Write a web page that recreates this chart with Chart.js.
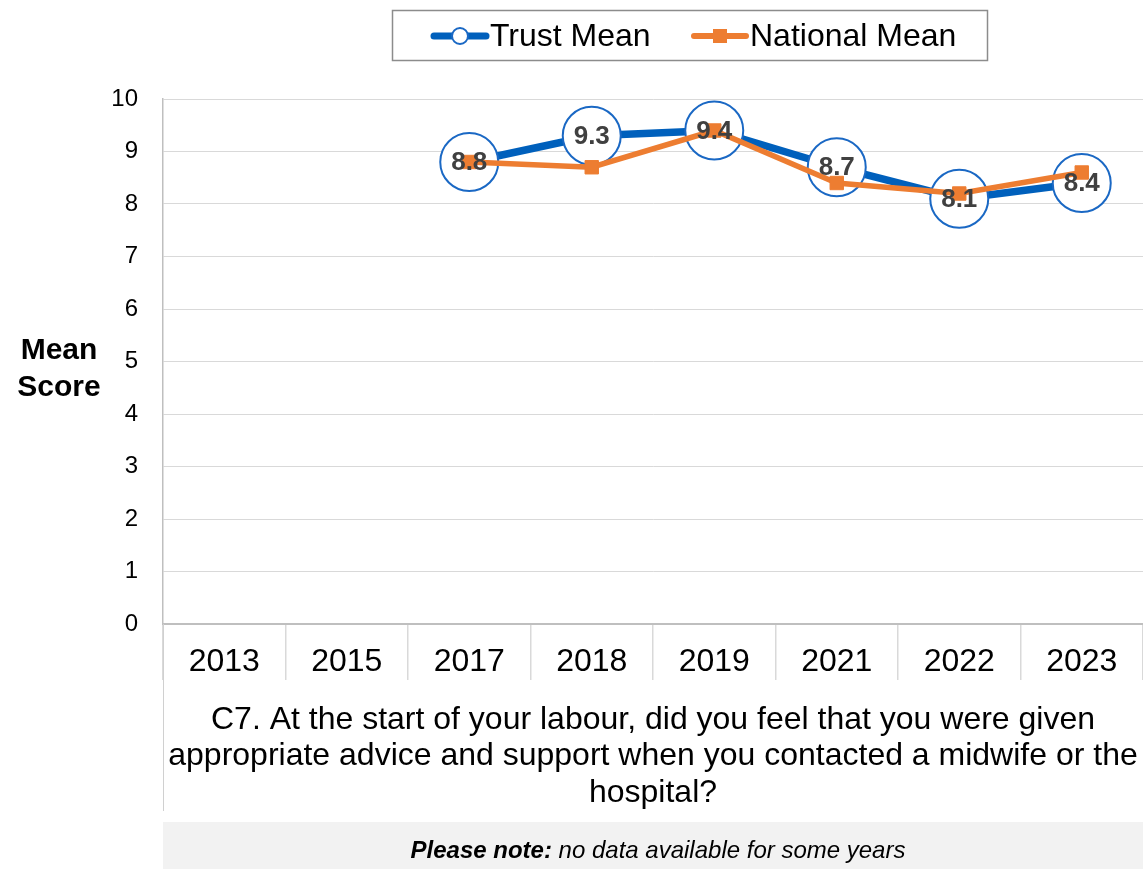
<!DOCTYPE html>
<html><head><meta charset="utf-8">
<script src="https://cdn.jsdelivr.net/npm/chart.js@4/dist/chart.umd.min.js"></script>
<style>html,body{margin:0;padding:0;background:#fff;overflow:hidden;} canvas{display:block}</style>
</head><body>
<canvas id="c" width="1143" height="869"></canvas>
<script>
// ---- data ----
const categories = ['2013','2015','2017','2018','2019','2021','2022','2023'];
const trustMean = [null, null, 8.8, 9.3, 9.4, 8.7, 8.1, 8.4];
const nationalMean = [null, null, 8.8, 8.7, 9.4, 8.4, 8.2, 8.6];
const yMin = 0, yMax = 10, yStep = 1;
const seriesNames = ['Trust Mean', 'National Mean'];
const yAxisLabel = ['Mean', 'Score'];
const questionText = [
  'C7. At the start of your labour, did you feel that you were given',
  'appropriate advice and support when you contacted a midwife or the',
  'hospital?'
];
const noteBold = 'Please note:';
const noteRest = ' no data available for some years';

// ---- styles ----
const FONT = '"Liberation Sans", Arial, sans-serif';
const BLUE = '#0060BC';
const BLUE_RING = '#1A68C4';
const ORANGE = '#ED7D31';

const valueLabels = {
  id: 'valueLabels',
  afterDatasetsDraw(chart) {
    const ctx = chart.ctx;
    const meta = chart.getDatasetMeta(0);
    ctx.save();
    ctx.font = 'bold 26px ' + FONT;
    ctx.fillStyle = '#404040';
    ctx.textAlign = 'center';
    ctx.textBaseline = 'middle';
    meta.data.forEach((el, i) => {
      const v = trustMean[i];
      if (v === null || el.skip) return;
      ctx.fillText(v.toFixed(1), el.x, el.y + 1);
    });
    ctx.restore();
  }
};

const decorations = {
  id: 'decorations',
  afterDraw(chart) {
    const ctx = chart.ctx;
    const ca = chart.chartArea;
    const xs = chart.scales.x;
    ctx.save();
    // left border extension below the plot
    ctx.strokeStyle = '#D0D0D0';
    ctx.lineWidth = 1;
    ctx.beginPath();
    ctx.moveTo(ca.left + 0.5, ca.bottom);
    ctx.lineTo(ca.left + 0.5, xs.bottom);
    ctx.stroke();

    // legend box
    ctx.strokeStyle = '#8C8C8C';
    ctx.lineWidth = 1.5;
    ctx.strokeRect(392.5, 10.5, 595, 50);
    const ly = 36;
    ctx.lineCap = 'round';
    ctx.strokeStyle = BLUE; ctx.lineWidth = 7;
    ctx.beginPath(); ctx.moveTo(434, ly); ctx.lineTo(486, ly); ctx.stroke();
    ctx.fillStyle = '#fff'; ctx.strokeStyle = BLUE_RING; ctx.lineWidth = 2;
    ctx.beginPath(); ctx.arc(460, ly, 8, 0, Math.PI * 2); ctx.fill(); ctx.stroke();
    ctx.strokeStyle = ORANGE; ctx.lineWidth = 6;
    ctx.beginPath(); ctx.moveTo(694, ly); ctx.lineTo(746, ly); ctx.stroke();
    ctx.fillStyle = ORANGE;
    ctx.fillRect(713, ly - 7, 14, 14);
    ctx.fillStyle = '#000';
    ctx.font = '32px ' + FONT;
    ctx.textAlign = 'left'; ctx.textBaseline = 'middle';
    ctx.fillText(seriesNames[0], 490, ly + 1);
    ctx.fillText(seriesNames[1], 750, ly + 1);

    // y axis label
    ctx.font = 'bold 30px ' + FONT;
    ctx.textAlign = 'center';
    ctx.fillText(yAxisLabel[0], 59, 351);
    ctx.fillText(yAxisLabel[1], 59, 388);

    // note box
    ctx.fillStyle = '#F2F2F2';
    ctx.fillRect(ca.left, 822, ca.right - ca.left, 869 - 822);
    ctx.fillStyle = '#000';
    const fb = 'italic bold 24px ' + FONT;
    const fr = 'italic 24px ' + FONT;
    ctx.font = fb; const wb = ctx.measureText(noteBold).width;
    ctx.font = fr; const wr = ctx.measureText(noteRest).width;
    const sx = 658 - (wb + wr) / 2;
    ctx.textAlign = 'left';
    ctx.font = fb; ctx.fillText(noteBold, sx, 851);
    ctx.font = fr; ctx.fillText(noteRest, sx + wb, 851);
    ctx.restore();
  }
};

new Chart(document.getElementById('c'), {
  type: 'line',
  data: {
    labels: categories,
    datasets: [
      {
        label: seriesNames[0],
        data: trustMean,
        borderColor: BLUE,
        borderWidth: 7.5,
        pointRadius: 29,
        pointHoverRadius: 29,
        pointBackgroundColor: '#fff',
        pointBorderColor: BLUE_RING,
        pointBorderWidth: 2,
        order: 2,
        clip: false,
        spanGaps: false
      },
      {
        label: seriesNames[1],
        data: nationalMean,
        borderColor: ORANGE,
        borderWidth: 5.5,
        pointStyle: 'rect',
        pointRadius: 9.5,
        pointHoverRadius: 9.5,
        pointBackgroundColor: ORANGE,
        pointBorderColor: ORANGE,
        pointBorderWidth: 1,
        order: 1,
        clip: false
      }
    ]
  },
  options: {
    responsive: false,
    animation: false,
    maintainAspectRatio: false,
    layout: { autoPadding: false, padding: { left: 0, right: 0, top: 99, bottom: 58 } },
    plugins: { legend: { display: false }, tooltip: { enabled: false } },
    scales: {
      x: {
        offset: true,
        afterFit(scale) { scale.height = 187; },
        grid: { offset: true, drawOnChartArea: false, tickLength: 56, color: '#D9D9D9', lineWidth: 1.5 },
        border: { color: '#BFBFBF', width: 2 },
        ticks: { color: '#000', font: { family: FONT, size: 32, lineHeight: 1.2 }, padding: -37, maxRotation: 0, autoSkip: false },
        title: {
          display: true,
          text: questionText,
          color: '#000',
          font: { family: FONT, size: 32, lineHeight: 1.14 },
          padding: { top: 0, bottom: 0 }
        }
      },
      y: {
        min: yMin, max: yMax,
        afterFit(scale) { scale.width = 163; },
        grid: { color: '#D9D9D9', lineWidth: 1, drawTicks: false },
        border: { color: '#BFBFBF', width: 1.5 },
        ticks: { stepSize: yStep, color: '#000', font: { family: FONT, size: 24 }, padding: 25 }
      }
    }
  },
  plugins: [valueLabels, decorations]
});
</script>
</body></html>
